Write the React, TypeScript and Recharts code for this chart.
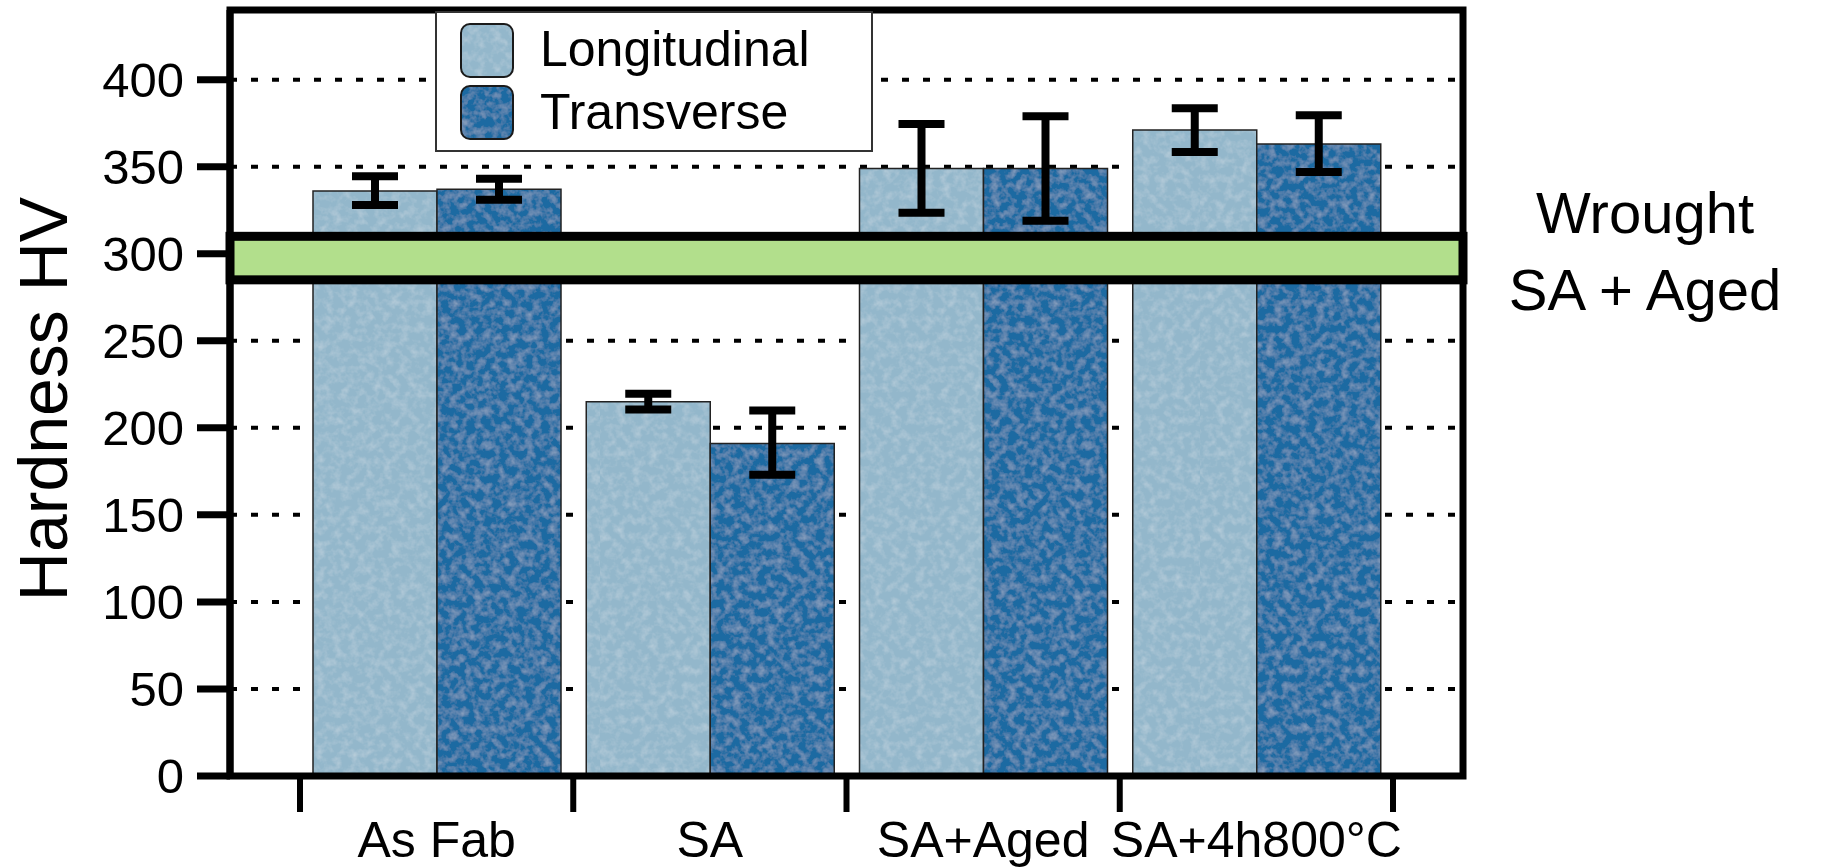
import React from 'react';
import {
  BarChart,
  Bar,
  XAxis,
  YAxis,
  CartesianGrid,
  ErrorBar,
  ReferenceArea,
  Legend,
} from 'recharts';

const FONT = '"Liberation Sans", Arial, Helvetica, sans-serif';

// conditions on the x axis
const categories = ['As Fab', 'SA', 'SA+Aged', 'SA+4h800°C'];

// mean hardness (HV)
const longitudinal = [336, 215, 349, 371];
const transverse = [337, 191, 349, 363];

// error bars as [below, above]
const longitudinalErr = [[8, 8.5], [4.5, 4.5], [25.5, 25.5], [12.5, 12.5]];
const transverseErr = [[6, 6], [18, 19], [30, 30], [16, 16.5]];

// wrought SA + aged band (HV)
const wroughtBand = [285, 310];

const yTicks = [0, 50, 100, 150, 200, 250, 300, 350, 400];
const Y_MAX = 440;

// empty space between the y axis / right frame and the first / last category
const PAD = 70;

const LIGHT = '#93b7cb';
const DARK = '#1f6ba2';

const data = categories.map((name, i) => ({
  name,
  longitudinal: longitudinal[i],
  transverse: transverse[i],
  longitudinalErr: longitudinalErr[i],
  transverseErr: transverseErr[i],
}));

const swatchColor: Record<string, string> = {
  longitudinal: 'url(#texLight)',
  transverse: 'url(#texDark)',
};

// category ticks sit on the band edges, labels in the middle
const CategoryTick = (props: any) => {
  const { x, y, payload, index } = props;
  const half = payload?.offset || 136.6;
  return (
    <g>
      <line x1={x - half} y1={y} x2={x - half} y2={y + 36} stroke="#000" strokeWidth={6} />
      {index === categories.length - 1 && (
        <line x1={x + half} y1={y} x2={x + half} y2={y + 36} stroke="#000" strokeWidth={6} />
      )}
      <text x={x} y={y + 81} textAnchor="middle" fontFamily={FONT} fontSize={50} fill="#000">
        {payload.value}
      </text>
    </g>
  );
};

const LegendBox = ({ payload }: any) => {
  const items = (payload || []).filter((p: any) => p.dataKey);
  return (
    <svg width={438} height={141} style={{ display: 'block' }}>
      <rect x={1} y={1} width={436} height={139} fill="#fff" stroke="#333" strokeWidth={2} />
      {items.map((item: any, i: number) => (
        <g key={item.dataKey}>
          <rect
            x={26}
            y={13 + i * 62}
            width={52}
            height={53}
            rx={9}
            fill={swatchColor[item.dataKey]}
            stroke="#1a1a1a"
            strokeWidth={2}
          />
          <text x={105} y={55 + i * 63} fontFamily={FONT} fontSize={50} fill="#000">
            {item.value}
          </text>
        </g>
      ))}
    </svg>
  );
};

// reference areas get the padded category range; widen them to the full plot
const FullWidthRect = (props: any) => {
  const { x, y, width, height, fill, stroke, strokeWidth } = props;
  return (
    <rect
      x={x - PAD}
      y={y}
      width={width + 2 * PAD}
      height={height}
      fill={fill}
      stroke={stroke}
      strokeWidth={strokeWidth}
    />
  );
};

const WroughtLabel = (props: any) => {
  const vb = props.viewBox || { x: 300, y: 236, width: 1093, height: 44 };
  const cx = vb.x + vb.width + PAD + 182;
  return (
    <text textAnchor="middle" fontFamily={FONT} fontSize={58} fill="#000">
      <tspan x={cx} y={vb.y - 3}>Wrought</tspan>
      <tspan x={cx} y={vb.y + 74}>SA + Aged</tspan>
    </text>
  );
};

const AxisTitle = (props: any) => {
  const vb = props.viewBox || { x: 0, y: 10, width: 230, height: 766 };
  const cx = 67;
  const cy = vb.y + vb.height / 2 + 6;
  return (
    <text
      x={cx}
      y={cy}
      transform={`rotate(-90, ${cx}, ${cy})`}
      textAnchor="middle"
      fontFamily={FONT}
      fontSize={68}
      fill="#000"
    >
      Hardness HV
    </text>
  );
};

export default function App() {
  return (
    <div style={{ position: 'absolute', left: 0, top: 0, width: 1825, height: 867, background: '#fff' }}>
      <BarChart
        width={1825}
        height={867}
        data={data}
        margin={{ top: 10, right: 362, bottom: 0, left: 0 }}
        barCategoryGap={13}
        barGap={0}
      >
        <defs>
          <filter id="grain" x="0" y="0" width="100%" height="100%">
            <feTurbulence type="fractalNoise" baseFrequency="0.12" numOctaves="3" seed="7" result="n" />
            <feColorMatrix
              in="n"
              type="matrix"
              values="0 0 0 0 1  0 0 0 0 1  0 0 0 0 1  0.45 0 0 0 -0.19"
              result="w"
            />
            <feComposite in="w" in2="SourceGraphic" operator="atop" />
          </filter>
          <pattern id="texLight" patternUnits="userSpaceOnUse" width="600" height="900">
            <rect width="600" height="900" fill={LIGHT} filter="url(#grain)" />
          </pattern>
          <pattern id="texDark" patternUnits="userSpaceOnUse" width="600" height="900">
            <rect width="600" height="900" fill={DARK} filter="url(#grain)" />
          </pattern>
        </defs>
        <CartesianGrid
          horizontal
          vertical={false}
          stroke="#000"
          strokeWidth={4}
          strokeDasharray="7 14"
        />
        <XAxis
          dataKey="name"
          height={91}
          padding={{ left: PAD, right: PAD }}
          axisLine={{ stroke: '#000', strokeWidth: 6 }}
          tickLine={false}
          tickSize={0}
          tickMargin={0}
          interval={0}
          tick={<CategoryTick />}
        />
        <YAxis
          width={230}
          domain={[0, Y_MAX]}
          ticks={yTicks}
          interval={0}
          allowDataOverflow
          axisLine={{ stroke: '#000', strokeWidth: 7 }}
          tickLine={{ stroke: '#000', strokeWidth: 7 }}
          tickSize={33}
          tickMargin={13}
          tick={{ fontFamily: FONT, fontSize: 49, fill: '#000' }}
          label={{ content: <AxisTitle /> }}
        />
        <Legend
          layout="vertical"
          align="center"
          verticalAlign="middle"
          wrapperStyle={{ left: 435, top: 11, width: 438, height: 141 }}
          content={<LegendBox />}
        />
        <Bar
          dataKey="longitudinal"
          name="Longitudinal"
          fill="url(#texLight)"
          stroke="#222"
          strokeWidth={1.5}
          isAnimationActive={false}
        >
          <ErrorBar dataKey="longitudinalErr" width={23} strokeWidth={8} stroke="#000" />
        </Bar>
        <Bar
          dataKey="transverse"
          name="Transverse"
          fill="url(#texDark)"
          stroke="#222"
          strokeWidth={1.5}
          isAnimationActive={false}
        >
          <ErrorBar dataKey="transverseErr" width={23} strokeWidth={8} stroke="#000" />
        </Bar>
        <ReferenceArea
          y1={wroughtBand[0]}
          y2={wroughtBand[1]}
          fill="#b2df8c"
          fillOpacity={1}
          stroke="#000"
          strokeWidth={9}
          ifOverflow="visible"
          zIndex={350}
          shape={<FullWidthRect />}
          label={<WroughtLabel />}
        />
        <ReferenceArea
          y1={0}
          y2={Y_MAX}
          fill="none"
          stroke="#000"
          strokeWidth={7}
          ifOverflow="visible"
          zIndex={360}
          shape={<FullWidthRect />}
        />
      </BarChart>
    </div>
  );
}
